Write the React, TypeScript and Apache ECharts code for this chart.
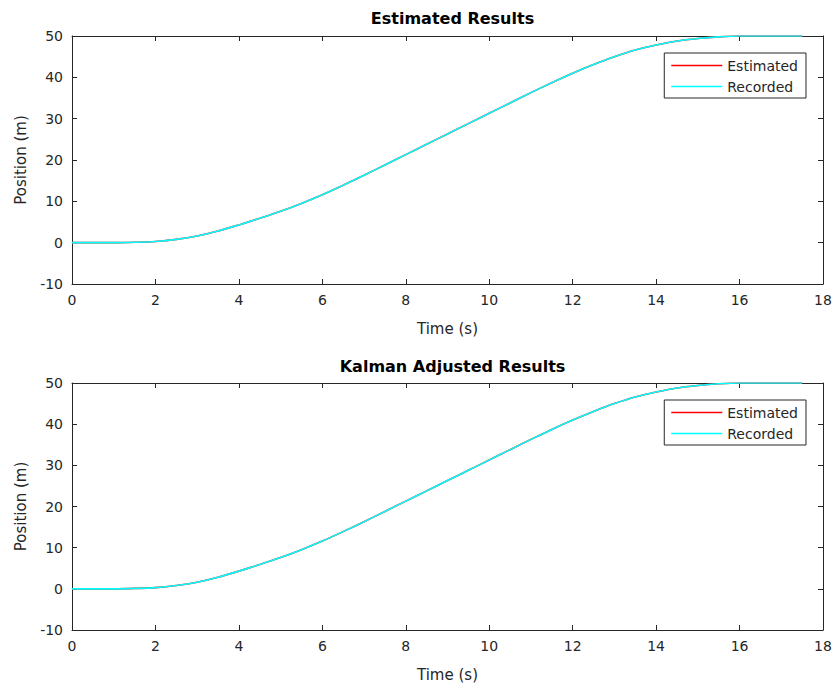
import React, { useEffect, useRef } from "react";
import * as echarts from "echarts";

const time = [0, 0.5, 1, 1.5, 2, 2.5, 3, 3.5, 4, 4.5, 5, 5.5, 6, 6.5, 7, 7.5, 8, 8.5, 9, 9.5, 10, 10.5, 11, 11.5, 12, 12.5, 13, 13.5, 14, 14.5, 15, 15.5, 16, 16.5, 17, 17.5];
const recorded = [0, 0, 0, 0.1, 0.3, 0.8, 1.6, 2.8, 4.3, 5.9, 7.6, 9.5, 11.6, 13.9, 16.3, 18.8, 21.3, 23.8, 26.3, 28.8, 31.3, 33.8, 36.3, 38.7, 41, 43.1, 45, 46.6, 47.8, 48.8, 49.4, 49.8, 50, 50, 50, 50];
const estimated = [0, 0, 0, 0.1, 0.3, 0.8, 1.6, 2.8, 4.3, 5.9, 7.6, 9.5, 11.6, 13.9, 16.3, 18.8, 21.3, 23.8, 26.3, 28.8, 31.3, 33.8, 36.3, 38.7, 41, 43.1, 45, 46.6, 47.8, 48.8, 49.4, 49.8, 50, 50, 50, 50];
const kalmanRecorded = recorded;
const kalmanEstimated = estimated;
const titles = ["Estimated Results", "Kalman Adjusted Results"];
const legendNames = ["Estimated", "Recorded"];

const FONT = "DejaVu Sans";
const AX = "#262626";

export default function App() {
  const ref = useRef<HTMLDivElement>(null);
  useEffect(() => {
    const chart = echarts.init(ref.current!, null, { renderer: "svg" });
    const grids = [
      { left: 72, top: 36, width: 751, height: 248 },
      { left: 72, top: 383, width: 751, height: 247 },
    ];
    const xAxes: any[] = [];
    const yAxes: any[] = [];
    grids.forEach((g, i) => {
      const base = {
        gridIndex: i,
        axisLine: { show: true, onZero: false, lineStyle: { color: AX, width: 1 } },
        axisTick: { show: true, inside: true, length: 5, lineStyle: { color: AX } },
        splitLine: { show: false },
      };
      xAxes.push({
        ...base,
        type: "value",
        position: "bottom",
        min: 0,
        max: 18,
        interval: 2,
        name: "Time (s)",
        nameLocation: "middle",
        nameGap: 37,
        nameTextStyle: { fontFamily: FONT, fontSize: 15, color: AX },
        axisLabel: { fontFamily: FONT, fontSize: 14, color: AX, margin: 9 },
      });
      xAxes.push({
        ...base,
        type: "value",
        position: "top",
        min: 0,
        max: 18,
        interval: 2,
        axisLabel: { show: false },
      });
      yAxes.push({
        ...base,
        type: "value",
        position: "left",
        min: -10,
        max: 50,
        interval: 10,
        name: "Position (m)",
        nameLocation: "middle",
        nameGap: 44,
        nameTextStyle: { fontFamily: FONT, fontSize: 15, color: AX },
        axisLabel: { fontFamily: FONT, fontSize: 14, color: AX, margin: 9 },
      });
      yAxes.push({
        ...base,
        type: "value",
        position: "right",
        min: -10,
        max: 50,
        interval: 10,
        axisLabel: { show: false },
      });
    });
    const mk = (name: string, vals: number[], color: string, i: number) => ({
      name,
      type: "line",
      xAxisIndex: i * 2,
      yAxisIndex: i * 2,
      data: time.map((t, k) => [t, vals[k]]),
      showSymbol: false,
      symbol: "none",
      smooth: 0.3,
      lineStyle: { color, width: 1.6 },
      itemStyle: { color },
    });
    const legendBase = {
      orient: "vertical",
      data: legendNames.map((n) => ({ name: n, icon: "rect" })),
      backgroundColor: "#fff",
      borderColor: AX,
      borderWidth: 1,
      padding: [5, 8, 4, 7],
      itemGap: 6,
      itemWidth: 51,
      itemHeight: 1.6,
      textStyle: { fontFamily: FONT, fontSize: 14, lineHeight: 15, color: AX },
      selectedMode: false,
    };
    chart.setOption({
      animation: false,
      backgroundColor: "#fff",
      title: titles.map((t, i) => ({
        text: t,
        left: 72 + 751 / 2,
        textAlign: "center",
        top: i === 0 ? 5 : 353,
        textStyle: { fontFamily: FONT, fontSize: 16, fontWeight: "bold", color: "#000" },
      })),
      legend: [
        { ...legendBase, right: 31, top: 53 },
        { ...legendBase, right: 31, top: 400 },
      ],
      grid: grids,
      xAxis: xAxes,
      yAxis: yAxes,
      series: [
        mk("Estimated", estimated, "#ff0000", 0),
        mk("Recorded", recorded, "#00ffff", 0),
        mk("Estimated", kalmanEstimated, "#ff0000", 1),
        mk("Recorded", kalmanRecorded, "#00ffff", 1),
      ],
    });
    return () => chart.dispose();
  }, []);
  return (
    <div
      ref={ref}
      style={{ position: "fixed", left: 0, top: 0, width: 837, height: 689, background: "#fff" }}
    />
  );
}
